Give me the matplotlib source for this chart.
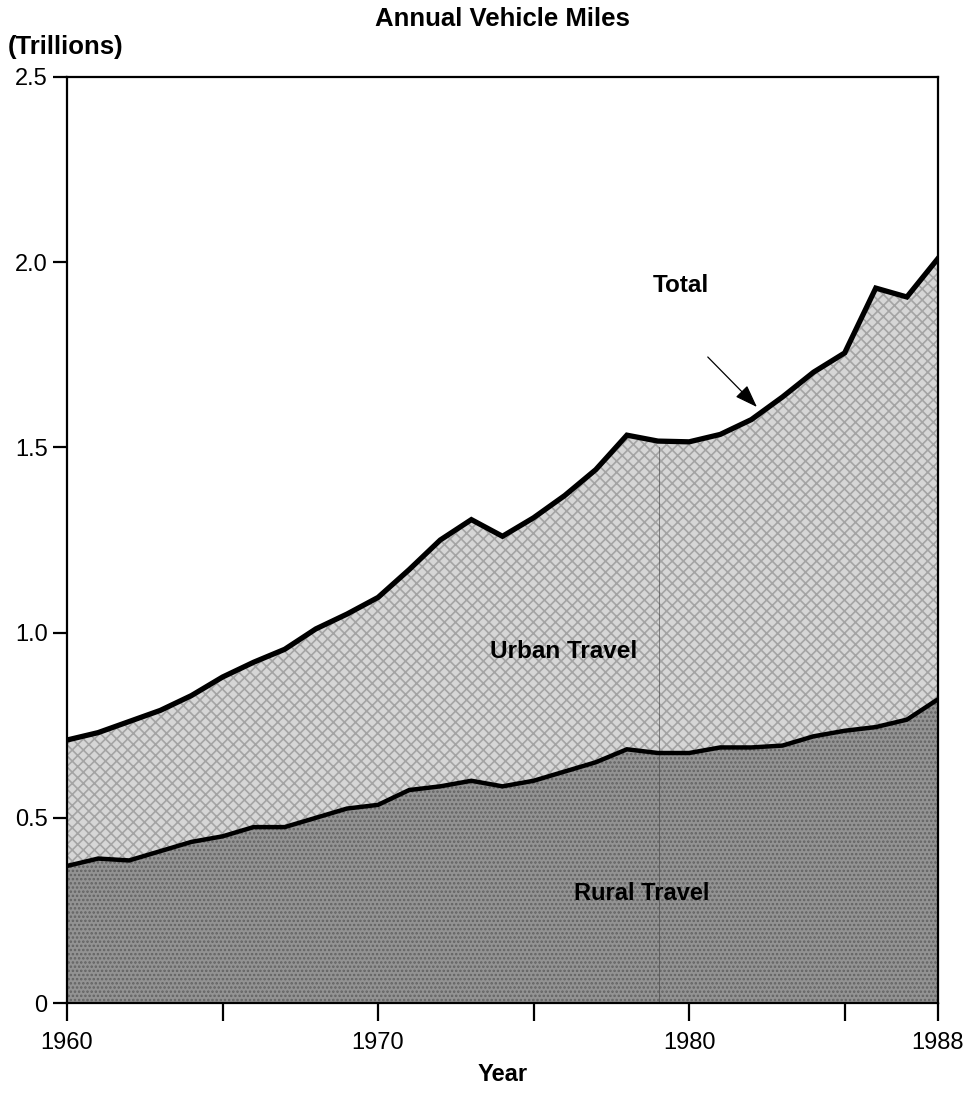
import matplotlib
matplotlib.use("Agg")
import matplotlib.pyplot as plt

plt.rcParams['font.family'] = ['Liberation Sans', 'DejaVu Sans']

years = list(range(1960, 1989))
total_travel = [0.71, 0.73, 0.76, 0.79, 0.83, 0.88, 0.92, 0.955, 1.01, 1.05,
                1.095, 1.17, 1.25, 1.305, 1.26, 1.31, 1.37, 1.44, 1.533, 1.517,
                1.515, 1.535, 1.575, 1.636, 1.703, 1.755, 1.93, 1.906, 2.01]
rural_travel = [0.37, 0.39, 0.385, 0.41, 0.435, 0.45, 0.475, 0.475, 0.50, 0.525,
                0.535, 0.575, 0.585, 0.60, 0.585, 0.60, 0.625, 0.65, 0.685, 0.675,
                0.675, 0.69, 0.69, 0.695, 0.72, 0.735, 0.745, 0.765, 0.82]

x_ticks = [1960, 1965, 1970, 1975, 1980, 1985, 1988]
x_tick_labels = ['1960', '', '1970', '', '1980', '', '1988']
y_ticks = [0, 0.5, 1.0, 1.5, 2.0, 2.5]
y_tick_labels = ['0', '0.5', '1.0', '1.5', '2.0', '2.5']

fig = plt.figure(figsize=(9.72, 10.93), dpi=100)
ax = fig.add_axes([0.0689, 0.0823, 0.8961, 0.8473])

plt.rcParams['hatch.linewidth'] = 1.2

# rural share: dark speckled grey
ax.fill_between(years, 0, rural_travel, facecolor='#939393', edgecolor='#626262',
                hatch='....', linewidth=0, zorder=1)
# urban share: light checkered grey
ax.fill_between(years, rural_travel, total_travel, facecolor='#d6d6d6', edgecolor='#a4a4a4',
                hatch='xxx', linewidth=0, zorder=1)

ax.plot(years, rural_travel, color='black', linewidth=3.2, solid_joinstyle='miter', zorder=3)
ax.plot(years, total_travel, color='black', linewidth=3.8, solid_joinstyle='miter', zorder=3)

# faint crease running down through the shaded area
ax.axvline(1979.03, ymin=0, ymax=0.6, color='#444444', linewidth=0.7, alpha=0.6, zorder=2)

ax.set_xlim(1960, 1988)
ax.set_ylim(0, 2.5)
ax.set_xticks(x_ticks)
ax.set_xticklabels(x_tick_labels)
ax.set_yticks(y_ticks)
ax.set_yticklabels(y_tick_labels)
ax.tick_params(axis='x', direction='out', length=13, width=1.6, labelsize=17, pad=8)
ax.tick_params(axis='y', direction='out', length=10, width=1.6, labelsize=17, pad=4)
for side in ['left', 'right', 'top', 'bottom']:
    ax.spines[side].set_linewidth(1.6)
    ax.spines[side].set_zorder(4)

fig.text(0.517, 0.983, 'Annual Vehicle Miles', ha='center', va='center',
         fontsize=18.5, fontweight='bold')
fig.text(0.008, 0.957, '(Trillions)', ha='left', va='center',
         fontsize=18.5, fontweight='bold')
ax.set_xlabel('Year', fontsize=17, fontweight='bold', labelpad=6)

ax.text(1975.95, 0.948, 'Urban Travel', ha='center', va='center',
        fontsize=17.5, fontweight='bold', zorder=5)
ax.text(1978.48, 0.297, 'Rural Travel', ha='center', va='center',
        fontsize=17, fontweight='bold', zorder=5)
ax.text(1979.74, 1.936, 'Total', ha='center', va='center',
        fontsize=17.5, fontweight='bold', zorder=5)
ax.annotate('', xy=(1982.18, 1.609), xytext=(1980.6, 1.744),
            arrowprops=dict(arrowstyle='-|>,head_length=1.4,head_width=0.5',
                            color='black', linewidth=0.9,
                            shrinkA=0, shrinkB=0), zorder=5)

fig.savefig('out.png', dpi=100)
